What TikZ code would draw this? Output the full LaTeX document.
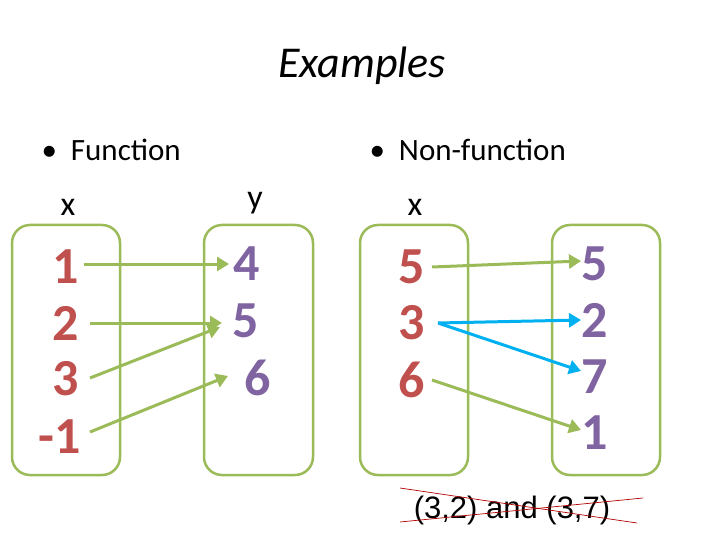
\documentclass[tikz,border=0pt]{standalone}
\usepackage{fontspec}
\setmainfont{Carlito}
\newfontfamily\arialf{Liberation Sans}
\usetikzlibrary{arrows.meta}
\begin{document}
\begin{tikzpicture}[x=1pt,y=-1pt,
 box/.style={draw=gr,line width=2.5pt,rounded corners=18pt},
 dom/.style={text=dred,font=\fontsize{52}{56}\selectfont\bfseries},
 cod/.style={text=purp,font=\fontsize{52}{56}\selectfont\bfseries},
 lab/.style={font=\fontsize{34}{38}\selectfont},
 ga/.style={draw=gr,line width=3pt,-{Triangle[length=12pt,width=14pt]}},
 ba/.style={draw=bl,line width=3pt,-{Triangle[length=12pt,width=14pt]}}]
\definecolor{gr}{RGB}{155,187,89}
\definecolor{bl}{RGB}{0,176,240}
\definecolor{dred}{RGB}{192,80,77}
\definecolor{purp}{RGB}{128,100,162}
\useasboundingbox (0,0) rectangle (720,540);
\node (title) at (362,66) {\fontsize{44}{48}\selectfont\itshape Examples};
\node[anchor=west] (f) at (38,150) {\fontsize{31}{35}\selectfont\textbullet\ \ Function};
\node[anchor=west] (nf) at (366,150) {\fontsize{31}{35}\selectfont\textbullet\ \ Non-function};
\node[lab] (lx1) at (68,207) {x};
\node[lab] (ly) at (255,203) {y};
\node[lab] (lx2) at (415,207) {x};
\draw[box] (12,225) rectangle (120,475);
\draw[box] (204,225) rectangle (313,475);
\draw[box] (360,225) rectangle (468,475);
\draw[box] (552,225) rectangle (660,475);
\node[dom] (a1) at (66,267) {1};
\node[dom] (a2) at (66,323) {2};
\node[dom] (a3) at (66,379) {3};
\node[dom] (a4) at (60,437) {-1};
\node[cod] (b4) at (247,264) {4};
\node[cod] (b5) at (246,321) {5};
\node[cod] (b6) at (258,378) {6};
\node[dom] (c5) at (412,267) {5};
\node[dom] (c3) at (412,323) {3};
\node[dom] (c6) at (412,380) {6};
\node[cod] (d5) at (595,264) {5};
\node[cod] (d2) at (595,320) {2};
\node[cod] (d7) at (595,377) {7};
\node[cod] (d1) at (595,433) {1};
\draw[ga] (84,264) -- (229,264);
\draw[ga] (90,323) -- (222,323);
\draw[ga] (90,378) -- (220,327);
\draw[ga] (90,432) -- (228,376);
\draw[ga] (432,267) -- (581,261);
\draw[ba] (438,323) -- (581,320);
\draw[ba] (438,323) -- (581,371);
\draw[ga] (432,380) -- (581,430);
\node (st) at (512,510) {\arialf\fontsize{31}{35}\selectfont (3,2) and (3,7)};
\draw[red!70!black,line width=0.7pt] (400,488) -- (637,523);
\draw[red!70!black,line width=0.7pt] (400,522) -- (643,498);
\end{tikzpicture}
\end{document}
